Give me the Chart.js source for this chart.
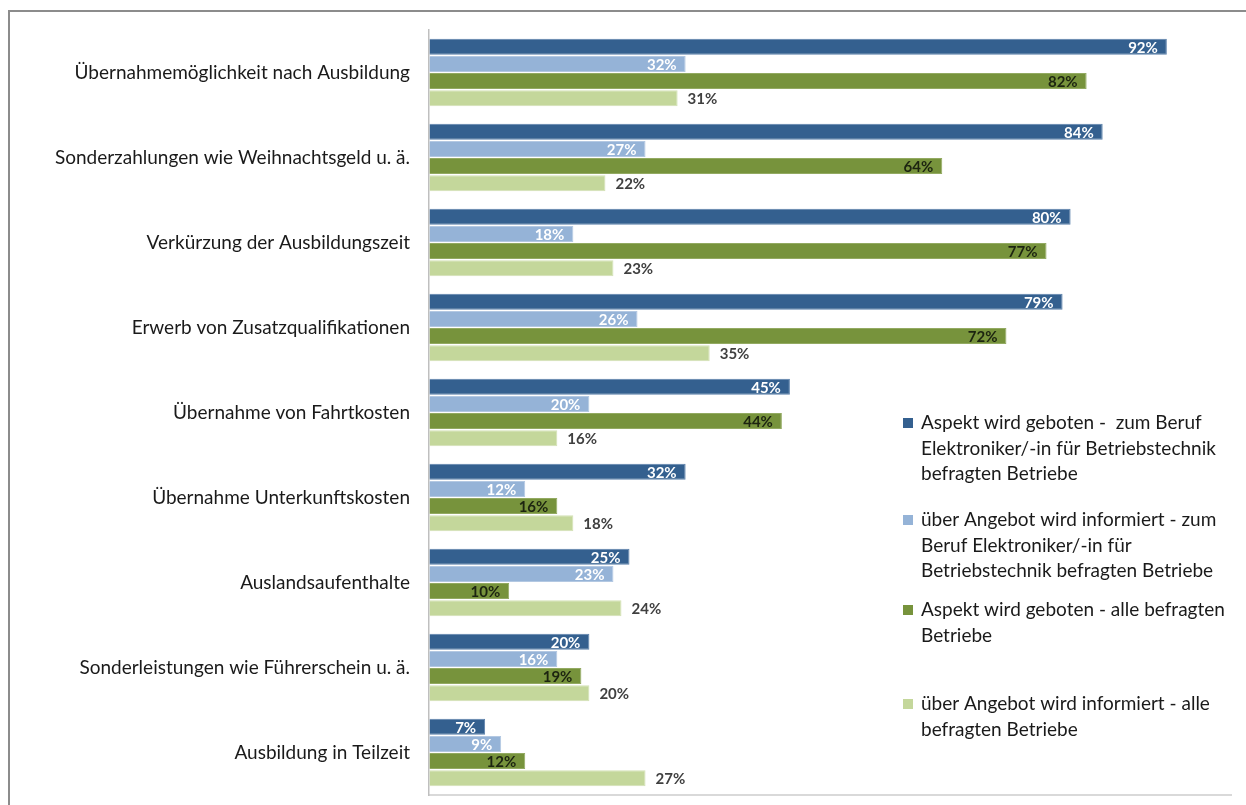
<!DOCTYPE html>
<html lang="de">
<head>
<meta charset="utf-8">
<title>Angebote der Betriebe</title>
<script src="https://cdn.jsdelivr.net/npm/chart.js@4.4.1/dist/chart.umd.min.js"></script>
<style>
  html, body { margin: 0; padding: 0; background: #fff; }
  #wrap { position: relative; width: 1246px; height: 805px; }
</style>
</head>
<body>
<div id="wrap"><canvas id="myChart" width="1246" height="805"></canvas></div>
<script>
const categories = [
  "Übernahmemöglichkeit nach Ausbildung",
  "Sonderzahlungen wie Weihnachtsgeld u. ä.",
  "Verkürzung der Ausbildungszeit",
  "Erwerb von Zusatzqualifikationen",
  "Übernahme von Fahrtkosten",
  "Übernahme Unterkunftskosten",
  "Auslandsaufenthalte",
  "Sonderleistungen wie Führerschein u. ä.",
  "Ausbildung in Teilzeit",
];

// Werte in Prozent, je Reihe eine Liste
const gebotenBeruf = [92, 84, 80, 79, 45, 32, 25, 20, 7];
const informiertBeruf = [32, 27, 18, 26, 20, 12, 23, 16, 9];
const gebotenAlle = [82, 64, 77, 72, 44, 16, 10, 19, 12];
const informiertAlle = [31, 22, 23, 35, 16, 18, 24, 20, 27];

const legendLines = [
  ["Aspekt wird geboten -  zum Beruf", "Elektroniker/-in für Betriebstechnik", "befragten Betriebe"],
  ["über Angebot wird informiert - zum", "Beruf Elektroniker/-in für", "Betriebstechnik befragten Betriebe"],
  ["Aspekt wird geboten - alle befragten", "Betriebe"],
  ["über Angebot wird informiert - alle", "befragten Betriebe"],
];

const FONT = "Lato, 'Open Sans', sans-serif";

const ctx = document.getElementById("myChart");

// Prozentwerte an die Balken schreiben
const valueLabels = {
  id: "valueLabels",
  afterDatasetsDraw(chart) {
    const c = chart.ctx;
    c.save();
    c.textBaseline = "middle";
    c.font = "bold 15px " + FONT;
    chart.data.datasets.forEach((ds, i) => {
      const meta = chart.getDatasetMeta(i);
      meta.data.forEach((bar, j) => {
        const text = ds.data[j] + "%";
        c.fillStyle = ds.labelColor;
        if (ds.labelInside) {
          c.textAlign = "right";
          c.fillText(text, bar.x - 9, bar.y + 1);
        } else {
          c.textAlign = "left";
          c.fillText(text, bar.x + 10, bar.y + 1);
        }
      });
    });
    c.restore();
  },
};

// Rahmen und Legende rechts unten
const frameAndLegend = {
  id: "frameAndLegend",
  afterDraw(chart) {
    const c = chart.ctx;
    c.save();
    c.strokeStyle = "#8c8c8c";
    c.lineWidth = 2;
    c.beginPath();
    c.moveTo(9, 805);
    c.lineTo(9, 11);
    c.lineTo(1246, 11);
    c.stroke();

    const tops = [423, 520, 610, 704];
    c.font = "19px " + FONT;
    c.textBaseline = "middle";
    c.textAlign = "left";
    chart.data.datasets.forEach((ds, i) => {
      c.fillStyle = ds.backgroundColor;
      c.fillRect(903, tops[i] - 5, 10, 10);
      c.fillStyle = "#1a1a1a";
      legendLines[i].forEach((line, k) => {
        c.fillText(line, 921, tops[i] + k * 25.5);
      });
    });
    c.restore();
  },
};

const barChart = new Chart(ctx, {
  type: "bar",
  data: {
    labels: categories,
    datasets: [
      {
        label: legendLines[0].join(" "),
        data: gebotenBeruf,
        backgroundColor: "#34608f",
        borderColor: "#5b80aa",
        labelInside: true,
        labelColor: "#ffffff",
      },
      {
        label: legendLines[1].join(" "),
        data: informiertBeruf,
        backgroundColor: "#95b3d7",
        borderColor: "#b3c8e2",
        labelInside: true,
        labelColor: "#ffffff",
      },
      {
        label: legendLines[2].join(" "),
        data: gebotenAlle,
        backgroundColor: "#77933c",
        borderColor: "#93aa62",
        labelInside: true,
        labelColor: "#1c2410",
      },
      {
        label: legendLines[3].join(" "),
        data: informiertAlle,
        backgroundColor: "#c4d79b",
        borderColor: "#d3e1b5",
        labelInside: false,
        labelColor: "#404040",
      },
    ],
  },
  options: {
    indexAxis: "y",
    responsive: false,
    animation: false,
    borderWidth: 1,
    categoryPercentage: 0.81,
    barPercentage: 0.93,
    layout: {
      padding: { top: 30, bottom: 10, right: 15, left: 0 },
    },
    plugins: {
      legend: { display: false },
      tooltip: { enabled: false },
    },
    scales: {
      x: {
        min: 0,
        max: 100,
        ticks: { display: false },
        grid: { drawOnChartArea: false, drawTicks: false },
        border: { color: "#d9d9d9", width: 2 },
        afterFit(scale) {
          scale.height = 0;
        },
      },
      y: {
        ticks: {
          color: "#1a1a1a",
          padding: 19,
          font: { family: FONT, size: 19 },
        },
        grid: { drawOnChartArea: false, drawTicks: false },
        border: { color: "#bfbfbf", width: 1.5 },
        afterFit(scale) {
          // the tick padding would otherwise push the plot area inwards
          scale.width = 429;
          scale.paddingTop = 0;
          scale.paddingBottom = 0;
        },
      },
    },
  },
  plugins: [valueLabels, frameAndLegend],
});
</script>
</body>
</html>
